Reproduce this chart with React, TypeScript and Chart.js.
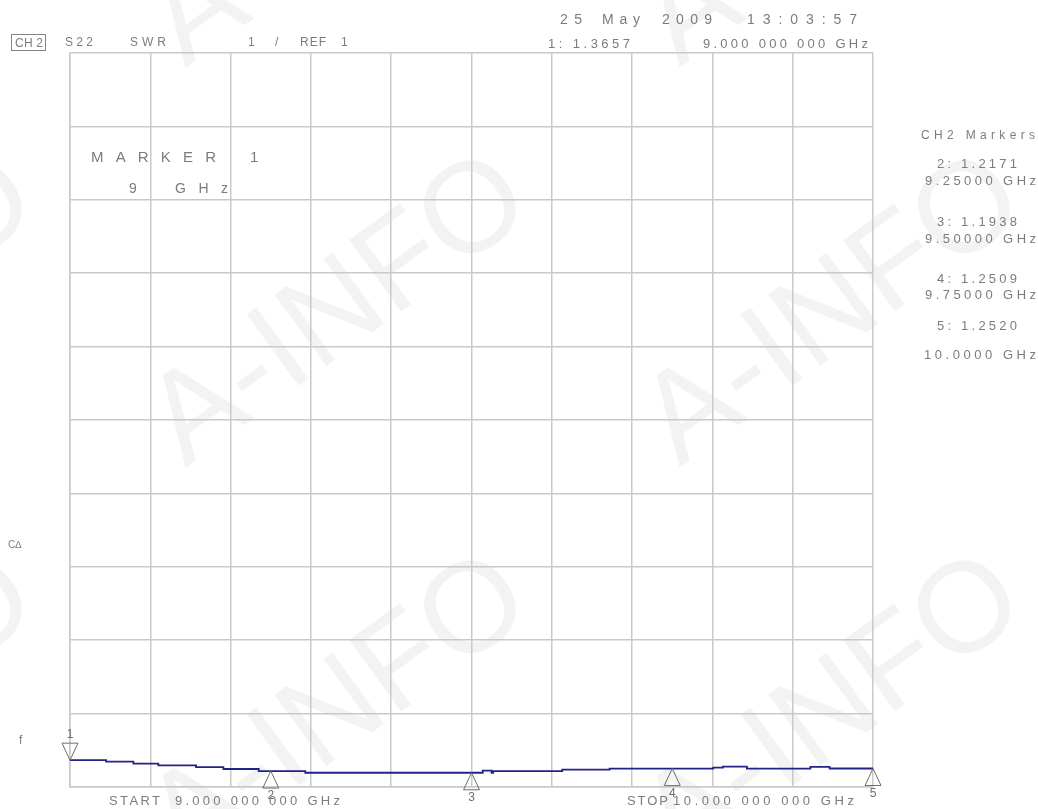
import React, { useEffect, useRef } from "react";
import { Chart, registerables } from "chart.js";

Chart.register(...registerables);

// ---- data ----
const xGridGHz = [9.0, 9.1, 9.2, 9.3, 9.4, 9.5, 9.6, 9.7, 9.8, 9.9, 10.0];
const yGridSWR = [1, 2, 3, 4, 5, 6, 7, 8, 9, 10, 11];

const traceFreqGHz = [
  9.0, 9.045, 9.079, 9.11, 9.157, 9.191, 9.235, 9.293, 9.514, 9.525, 9.527,
  9.613, 9.672, 9.801, 9.813, 9.843, 9.922, 9.946, 10.0,
];
const traceSWR = [
  1.366, 1.345, 1.318, 1.295, 1.27, 1.245, 1.217, 1.194, 1.222, 1.194, 1.217,
  1.238, 1.251, 1.265, 1.278, 1.251, 1.275, 1.252, 1.252,
];

const markerLabels = ["1", "2", "3", "4", "5"];
const markerFreqGHz = [9.0, 9.25, 9.5, 9.75, 10.0];
const markerSWR = [1.3657, 1.2171, 1.1938, 1.2509, 1.252];
const activeMarker = 0;

const FONT = '"Liberation Sans", Arial, sans-serif';
const TXT = "#7c7c7c";

let measureCtx: CanvasRenderingContext2D | null = null;
function spacingFor(text: string, font: string, width: number) {
  if (!measureCtx) measureCtx = document.createElement("canvas").getContext("2d");
  if (!measureCtx) return 0;
  measureCtx.font = font;
  const w = measureCtx.measureText(text).width;
  return (width - w) / Math.max(1, text.length - 1);
}

function T(props: {
  x1: number;
  x2?: number;
  y: number;
  text: string;
  size?: number;
  color?: string;
}) {
  const size = props.size ?? 13;
  const font = `${size}px ${FONT}`;
  const ls = props.x2 !== undefined ? spacingFor(props.text, font, props.x2 - props.x1) : 0;
  return (
    <div
      style={{
        position: "absolute",
        left: props.x1,
        top: props.y,
        transform: "translateY(-50%)",
        font,
        lineHeight: 1,
        letterSpacing: ls + "px",
        whiteSpace: "pre",
        color: props.color ?? TXT,
      }}
    >
      {props.text}
    </div>
  );
}

const markerPlugin = {
  id: "vnaMarkers",
  afterDatasetsDraw(chart: any) {
    const { ctx, scales } = chart;
    const x = scales.x;
    const y = scales.y;
    ctx.save();
    ctx.strokeStyle = "#6e6e6e";
    ctx.fillStyle = "#6e6e6e";
    ctx.lineWidth = 1;
    ctx.font = `12px ${FONT}`;
    ctx.textAlign = "center";
    ctx.textBaseline = "middle";
    markerFreqGHz.forEach((f, i) => {
      const px = x.getPixelForValue(f);
      const py = y.getPixelForValue(markerSWR[i]);
      const dir = i === activeMarker ? -1 : 1;
      ctx.beginPath();
      ctx.moveTo(px, py);
      ctx.lineTo(px - 8, py + dir * 17);
      ctx.lineTo(px + 8, py + dir * 17);
      ctx.closePath();
      ctx.stroke();
      ctx.fillText(markerLabels[i], px, py + dir * 25);
    });
    ctx.restore();
  },
};

export default function App() {
  const canvasRef = useRef<HTMLCanvasElement | null>(null);

  useEffect(() => {
    const canvas = canvasRef.current;
    if (!canvas) return;
    const gridColor = "#c9c9c9";
    const chart = new Chart(canvas, {
      type: "line",
      data: {
        datasets: [
          {
            data: traceFreqGHz.map((f, i) => ({ x: f, y: traceSWR[i] })),
            borderColor: "#22228a",
            borderWidth: 1.8,
            pointRadius: 0,
            stepped: true,
            fill: false,
          },
        ],
      },
      options: {
        responsive: false,
        animation: false,
        events: [],
        layout: { padding: { left: 70, top: 53, right: 165, bottom: 22 } },
        plugins: { legend: { display: false }, tooltip: { enabled: false } },
        scales: {
          x: {
            type: "linear",
            min: xGridGHz[0],
            max: xGridGHz[xGridGHz.length - 1],
            afterBuildTicks: (s: any) => {
              s.ticks = xGridGHz.map((v) => ({ value: v }));
            },
            ticks: { display: false },
            grid: { color: gridColor, lineWidth: 1.5, drawTicks: false },
            border: { display: true, color: gridColor, width: 1.5 },
          },
          y: {
            type: "linear",
            min: yGridSWR[0],
            max: yGridSWR[yGridSWR.length - 1],
            afterBuildTicks: (s: any) => {
              s.ticks = yGridSWR.map((v) => ({ value: v }));
            },
            ticks: { display: false },
            grid: { color: gridColor, lineWidth: 1.5, drawTicks: false },
            border: { display: true, color: gridColor, width: 1.5 },
          },
        },
      },
      plugins: [markerPlugin],
    } as any);
    return () => chart.destroy();
  }, []);

  const wm: Array<[number, number]> = [];
  for (let i = -1; i <= 1; i++) for (let j = -1; j <= 1; j++) wm.push([335 + 494 * i, 305 + 400 * j]);

  return (
    <div
      style={{
        position: "absolute",
        left: 0,
        top: 0,
        width: 1038,
        height: 809,
        overflow: "hidden",
        background: "#ffffff",
      }}
    >
      {wm.map(([cx, cy], k) => (
        <div
          key={k}
          style={{
            position: "absolute",
            left: cx,
            top: cy,
            transform: "translate(-50%, -50%) rotate(-36deg)",
            font: `128px ${FONT}`,
            lineHeight: 1,
            color: "#f3f3f3",
            whiteSpace: "pre",
          }}
        >
          A-INFO
        </div>
      ))}
      <canvas
        ref={canvasRef}
        width={1038}
        height={809}
        style={{ position: "absolute", left: 0, top: 0, width: 1038, height: 809 }}
      />
      {/* header left */}
      <div
        style={{
          position: "absolute",
          left: 11,
          top: 34,
          width: 35,
          height: 17,
          border: "1px solid #858585",
          boxSizing: "border-box",
        }}
      />
      <T x1={15} x2={43} y={43} text="CH 2" size={12} />
      <T x1={65} x2={93} y={42} text="S22" size={12} />
      <T x1={130} x2={166} y={42} text="SWR" size={12} />
      <T x1={248} y={42} text="1" size={12} />
      <T x1={275} y={42} text="/" size={12} />
      <T x1={300} x2={326} y={42} text="REF" size={12} />
      <T x1={341} y={42} text="1" size={12} />
      {/* header right */}
      <T x1={560} x2={582} y={19} text="25" size={14} />
      <T x1={602} x2={640} y={19} text="May" size={14} />
      <T x1={662} x2={712} y={19} text="2009" size={14} />
      <T x1={747} x2={857} y={19} text="13:03:57" size={14} />
      <T x1={548} x2={630} y={43} text="1: 1.3657" size={13} />
      <T x1={703} x2={868} y={43} text="9.000 000 000 GHz" size={13} />
      {/* in-grid marker readout */}
      <T x1={91} x2={216} y={156} text="MARKER" size={15} />
      <T x1={250} y={156} text="1" size={15} />
      <T x1={129} y={188} text="9" size={14} />
      <T x1={175} x2={228} y={188} text="GHz" size={14} />
      {/* right marker table */}
      <T x1={921} x2={1035} y={135} text="CH2 Markers" size={12} />
      <T x1={937} x2={1017} y={163} text="2: 1.2171" size={13} />
      <T x1={925} x2={1036} y={180} text="9.25000 GHz" size={13} />
      <T x1={937} x2={1017} y={221} text="3: 1.1938" size={13} />
      <T x1={925} x2={1036} y={238} text="9.50000 GHz" size={13} />
      <T x1={937} x2={1017} y={278} text="4: 1.2509" size={13} />
      <T x1={925} x2={1036} y={294} text="9.75000 GHz" size={13} />
      <T x1={937} x2={1017} y={325} text="5: 1.2520" size={13} />
      <T x1={924} x2={1036} y={354} text="10.0000 GHz" size={13} />
      {/* left side */}
      <T x1={8} y={545} text="C∆" size={10} />
      <T x1={19} y={740} text="f" size={12} />
      {/* footer */}
      <T x1={109} x2={160} y={800} text="START" size={13} />
      <T x1={175} x2={340} y={800} text="9.000 000 000 GHz" size={13} />
      <T x1={627} x2={668} y={800} text="STOP" size={13} />
      <T x1={673} x2={854} y={800} text="10.000 000 000 GHz" size={13} />
    </div>
  );
}
